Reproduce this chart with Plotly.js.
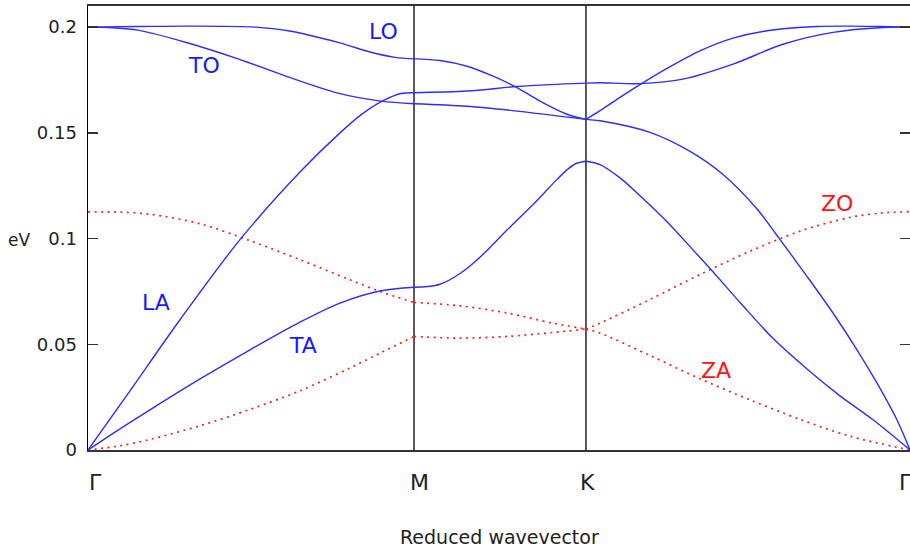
<!DOCTYPE html>
<html>
<head>
<meta charset="utf-8">
<script src="https://cdn.plot.ly/plotly-3.0.1.min.js"></script>
<style>html,body{margin:0;padding:0;background:#fff;}#chart{width:910px;height:547px;}</style>
</head>
<body>
<div id="chart"></div>
<script>
// High-symmetry points along the path (fraction of path length) and their labels
const kTickPos = [0, 0.3966, 0.6058, 1];
const kTickText = ['Γ', 'M', 'K', 'Γ'];
const yTickVals = [0, 0.05, 0.1, 0.15, 0.2];
const yTickText = ['0', '0.05', '0.1', '0.15', '0.2'];

// In-plane branches (blue), energies in eV
const taX = [0,0.0389,0.0754,0.1363,0.1971,0.2579,0.3066,0.3552,0.3966, 0.4124,0.4282,0.4526,0.4769,0.5097,0.5414,0.5706,0.5827,0.5937,0.6058, 0.6229,0.6472,0.6715,0.7044,0.7324,0.7567,0.7932,0.8333,0.8747,0.9148,0.9550,1];
const taE = [0,0.0100,0.0190,0.0336,0.0474,0.0605,0.0695,0.0752,0.0770, 0.0773,0.0784,0.0835,0.0912,0.1040,0.1161,0.1280,0.1325,0.1355,0.1366, 0.1350,0.1287,0.1203,0.1080,0.0962,0.0858,0.0698,0.0528,0.0383,0.0256,0.0143,0];

const laX = [0,0.0511,0.1119,0.1849,0.2579,0.3066,0.3321,0.3589,0.3808,0.3966, 0.4611,0.5219,0.5620,0.6058, 0.6229,0.6715,0.7238,0.7847,0.8455,0.9063,0.9672,1];
const laE = [0,0.0280,0.0616,0.0995,0.1315,0.1500,0.1585,0.1652,0.1686,0.1690, 0.1698,0.1719,0.1728,0.1735, 0.1737,0.1733,0.1754,0.1825,0.1919,0.1975,0.1998,0.2];

const toX = [0,0.0304,0.0608,0.1217,0.1825,0.2433,0.3041,0.3564,0.3966, 0.4611,0.5219,0.6058, 0.6229,0.6837,0.7324,0.7725,0.8139,0.8394,0.8747,0.9063,0.9355,0.9599,0.9842,1];
const toE = [0.2,0.1997,0.1986,0.1925,0.1850,0.1765,0.1688,0.1650,0.1638, 0.1626,0.1603,0.1564, 0.1557,0.1502,0.1412,0.1303,0.1140,0.1008,0.0821,0.0648,0.0474,0.0316,0.0142,0];

const loX = [0,0.0608,0.1217,0.2032,0.2433,0.3041,0.3443,0.3735,0.3966, 0.4282,0.4611,0.4927,0.5219,0.5499,0.5827,0.6058, 0.6229,0.6472,0.6715,0.7044,0.7445,0.7847,0.8260,0.8869,0.9270,0.9635,1];
const loE = [0.2,0.2003,0.2005,0.2000,0.1983,0.1928,0.1881,0.1857,0.1850, 0.1842,0.1815,0.1768,0.1714,0.1650,0.1588,0.1564, 0.1605,0.1668,0.1728,0.1805,0.1888,0.1948,0.1983,0.2003,0.2005,0.2003,0.2];

// Out-of-plane branches (red, dotted)
const zaX = [0,0.0389,0.0754,0.1363,0.1971,0.2579,0.3187,0.3552,0.3966, 0.4526,0.5097,0.5657,0.6058, 0.6229,0.6837,0.7445,0.8054,0.8662,0.9270,0.9635,1];
const zaE = [0,0.0020,0.0050,0.0115,0.0192,0.0280,0.0388,0.0458,0.0537, 0.0529,0.0537,0.0556,0.0572, 0.0600,0.0712,0.0830,0.0940,0.1035,0.1100,0.1120,0.1128];

const zoX = [0,0.0389,0.0754,0.1363,0.1971,0.2579,0.3187,0.3552,0.3966, 0.4526,0.5097,0.5657,0.6058, 0.6229,0.6837,0.7445,0.8054,0.8662,0.9270,1];
const zoE = [0.1126,0.1125,0.1115,0.1070,0.0990,0.0900,0.0805,0.0750,0.0698, 0.0682,0.0648,0.0600,0.0572, 0.0553,0.0447,0.0337,0.0237,0.0145,0.0065,0];

const branchLabels = ['TO', 'LO', 'LA', 'TA', 'ZO', 'ZA'];

const BLUE = 'rgb(45,45,255)';
const RED = 'rgb(255,30,30)';
const FONT = 'DejaVu Sans, Verdana, sans-serif';

// split a branch at the interior high-symmetry points so kinks stay sharp
function segments(xs, ys) {
  const inner = kTickPos.slice(1, -1);
  const segs = [];
  let cx = [], cy = [];
  for (let i = 0; i < xs.length; i++) {
    cx.push(xs[i]); cy.push(ys[i]);
    if (inner.some(b => Math.abs(b - xs[i]) < 1e-9) && i > 0 && i < xs.length - 1) {
      segs.push([cx, cy]);
      cx = [xs[i]]; cy = [ys[i]];
    }
  }
  segs.push([cx, cy]);
  return segs;
}

const traces = [];
function addBranch(xs, ys, color, dash) {
  segments(xs, ys).forEach(([sx, sy]) => {
    traces.push({
      x: sx, y: sy, type: 'scatter', mode: 'lines', hoverinfo: 'skip',
      line: {color: color, width: dash ? 1.7 : 1.4, shape: 'spline', smoothing: 0.9, dash: dash || 'solid'},
      showlegend: false
    });
  });
}
addBranch(zaX, zaE, RED, '2px,4.5px');
addBranch(zoX, zoE, RED, '2px,4.5px');
addBranch(taX, taE, BLUE);
addBranch(laX, laE, BLUE);
addBranch(toX, toE, BLUE);
addBranch(loX, loE, BLUE);

const shapes = kTickPos.slice(1, -1).map(k => ({
  type: 'line', xref: 'x', yref: 'paper', x0: k, x1: k, y0: 0, y1: 1,
  line: {color: '#000', width: 1.3}, layer: 'below'
}));

const labelPos = {
  TO: [0.1417, 0.1820], LO: [0.3589, 0.1979], LA: [0.0827, 0.0699],
  TA: [0.2616, 0.0493], ZO: [0.9106, 0.1168], ZA: [0.7640, 0.0374]
};
const annotations = branchLabels.map(name => ({
  x: labelPos[name][0], y: labelPos[name][1], xref: 'x', yref: 'y',
  text: name, showarrow: false, xanchor: 'center', yanchor: 'middle',
  font: {family: FONT, size: 22, color: name[0] === 'Z' ? 'rgb(255,20,20)' : 'rgb(25,25,255)'}
}));
const tickShift = [7, 5, 2, -5];
kTickPos.forEach((k, i) => annotations.push({
  x: k, y: -0.0743, xref: 'x', yref: 'paper', text: kTickText[i], showarrow: false,
  xanchor: 'center', yanchor: 'middle', xshift: tickShift[i],
  font: {family: FONT, size: 22, color: '#222'}
}));
annotations.push({
  x: -0.0839, y: 0.0995, xref: 'paper', yref: 'y', text: 'eV', showarrow: false,
  xanchor: 'center', yanchor: 'middle', font: {family: FONT, size: 17, color: '#222'}
});
annotations.push({
  x: 0.501, y: -0.196, xref: 'paper', yref: 'paper', text: 'Reduced wavevector', showarrow: false,
  xanchor: 'center', yanchor: 'middle', font: {family: FONT, size: 19, color: '#222'}
});

const layout = {
  width: 910, height: 547,
  margin: {l: 88, r: 0, t: 6, b: 97},
  paper_bgcolor: '#fff', plot_bgcolor: '#fff',
  showlegend: false,
  xaxis: {
    range: [0, 1], showgrid: false, zeroline: false, showline: true,
    linecolor: '#333', linewidth: 2, mirror: true, ticks: '', showticklabels: false
  },
  yaxis: {
    range: [0, 0.21], showgrid: false, zeroline: false, showline: true,
    linecolor: '#000', linewidth: 1.5, mirror: 'ticks',
    tickvals: yTickVals, ticktext: yTickText, ticks: 'inside', ticklen: 10,
    tickwidth: 1.5, tickcolor: '#333', ticklabelstandoff: 6,
    tickfont: {family: FONT, size: 18, color: '#222'}
  },
  shapes: shapes,
  annotations: annotations
};

Plotly.newPlot('chart', traces, layout, {displayModeBar: false, staticPlot: true});
</script>
</body>
</html>
